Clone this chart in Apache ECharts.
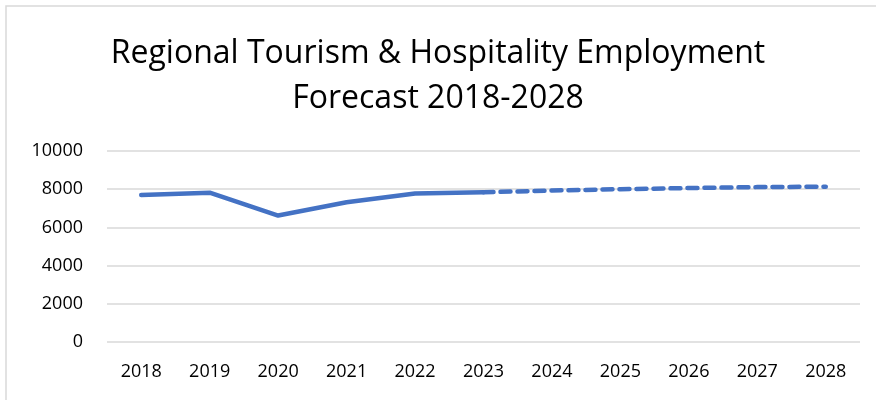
<!DOCTYPE html>
<html><head><meta charset="utf-8">
<script src="https://cdn.jsdelivr.net/npm/echarts@6/dist/echarts.min.js"></script>
<style>html,body{margin:0;padding:0;background:#fff}#c{width:876px;height:400px}</style>
</head><body><div id="c"></div>
<script>
const years = ['2018','2019','2020','2021','2022','2023','2024','2025','2026','2027','2028'];
const actual = [7700, 7820, 6620, 7320, 7780, 7840, null, null, null, null, null];
const forecast = [null, null, null, null, null, 7840, 7930, 8000, 8060, 8110, 8130];
const yTicks = [0, 2000, 4000, 6000, 8000, 10000];
const FONT = '"Open Sans", sans-serif';
const chart = echarts.init(document.getElementById('c'));
chart.setOption({
  animation: false,
  backgroundColor: '#fff',
  title: {
    text: 'Regional Tourism & Hospitality Employment\nForecast 2018-2028',
    left: 'center', top: 26,
    textStyle: {fontFamily: FONT, fontSize: 32, fontWeight: 'normal', color: '#000', lineHeight: 45}
  },
  graphic: [{type: 'rect', shape: {x: 6, y: 6, width: 880, height: 400}, style: {fill: 'none', stroke: '#d9d9d9', lineWidth: 1.5}}],
  grid: {left: 107, right: 16, top: 151, bottom: 58, containLabel: false},
  xAxis: {
    type: 'category', data: years, boundaryGap: true,
    axisLine: {show: false}, axisTick: {show: false},
    axisLabel: {fontFamily: FONT, fontSize: 18, color: '#000', margin: 21}
  },
  yAxis: {
    type: 'value', min: yTicks[0], max: yTicks[yTicks.length-1], interval: 2000,
    axisLine: {show: false}, axisTick: {show: false},
    axisLabel: {fontFamily: FONT, fontSize: 18, color: '#000', margin: 24, formatter: v => String(v)},
    splitLine: {lineStyle: {color: '#d9d9d9', width: 1.5}}
  },
  series: [
    {type: 'line', data: actual, showSymbol: false, connectNulls: false,
     lineStyle: {color: '#4472C4', width: 4.5, cap: 'round', join: 'round'}},
    {type: 'line', data: forecast, showSymbol: false, connectNulls: false,
     lineStyle: {color: '#4472C4', width: 4.5, type: [10, 7], cap: 'round'}}
  ]
});
</script></body></html>
